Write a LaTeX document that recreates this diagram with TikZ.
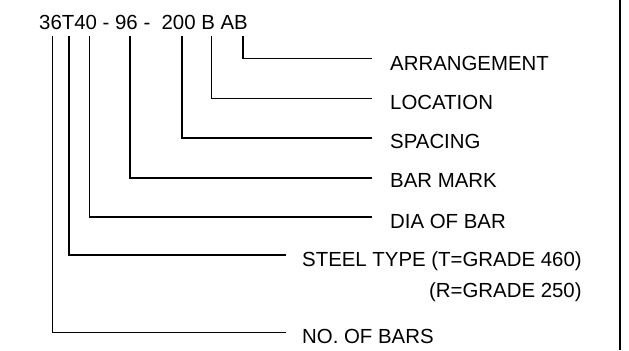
\documentclass[tikz,border=0pt]{standalone}
\usepackage{fontspec}
\setmainfont{Liberation Sans}
\begin{document}
\begin{tikzpicture}[x=1bp,y=-1bp,
  lbl/.style={anchor=base west,inner sep=0pt,font=\fontsize{20.4bp}{24bp}\selectfont},
  lead/.style={line width=1.6bp,line cap=rect}]
\useasboundingbox (0,0) rectangle (629,350);
\draw[line width=2.2bp] (620,0) -- (620,350);
\node[lbl] (code) at (39,29.3) {36T40 - 96 -\ \ 200 B AB};
\coordinate (vno)  at (52.3,37);
\coordinate (vst)  at (68.7,37);
\coordinate (vdia) at (89.3,37);
\coordinate (vbar) at (130,37);
\coordinate (vsp)  at (181.7,37);
\coordinate (vloc) at (211.3,37);
\coordinate (varr) at (242.7,37);
\node[lbl] (arr) at (390,70) {ARRANGEMENT};
\node[lbl] (loc) at (390,109.3) {LOCATION};
\node[lbl] (spa) at (390,148.5) {SPACING};
\node[lbl] (bar) at (390,187.5) {BAR MARK};
\node[lbl] (dia) at (390,228.3) {DIA OF BAR};
\node[lbl] (ste) at (302,266.7) {STEEL TYPE (T=GRADE 460)};
\node[lbl,anchor=base east] (rg) at ([yshift=-31bp]ste.base east) {(R=GRADE 250)};
\node[lbl] (nob) at (302,343.3) {NO. OF BARS};
\draw[lead] (varr) |- ([xshift=-19bp,yshift=11.5bp]arr.base west);
\draw[lead] (vloc) |- ([xshift=-19bp,yshift=11bp]loc.base west);
\draw[lead] (vsp)  |- ([xshift=-19bp,yshift=10.5bp]spa.base west);
\draw[lead] (vbar) |- ([xshift=-19bp,yshift=9.5bp]bar.base west);
\draw[lead] (vdia) |- ([xshift=-19bp,yshift=11.5bp]dia.base west);
\draw[lead] (vst)  |- ([xshift=-17bp,yshift=11.7bp]ste.base west);
\draw[lead] (vno)  |- ([xshift=-17bp,yshift=11bp]nob.base west);
\end{tikzpicture}
\end{document}
